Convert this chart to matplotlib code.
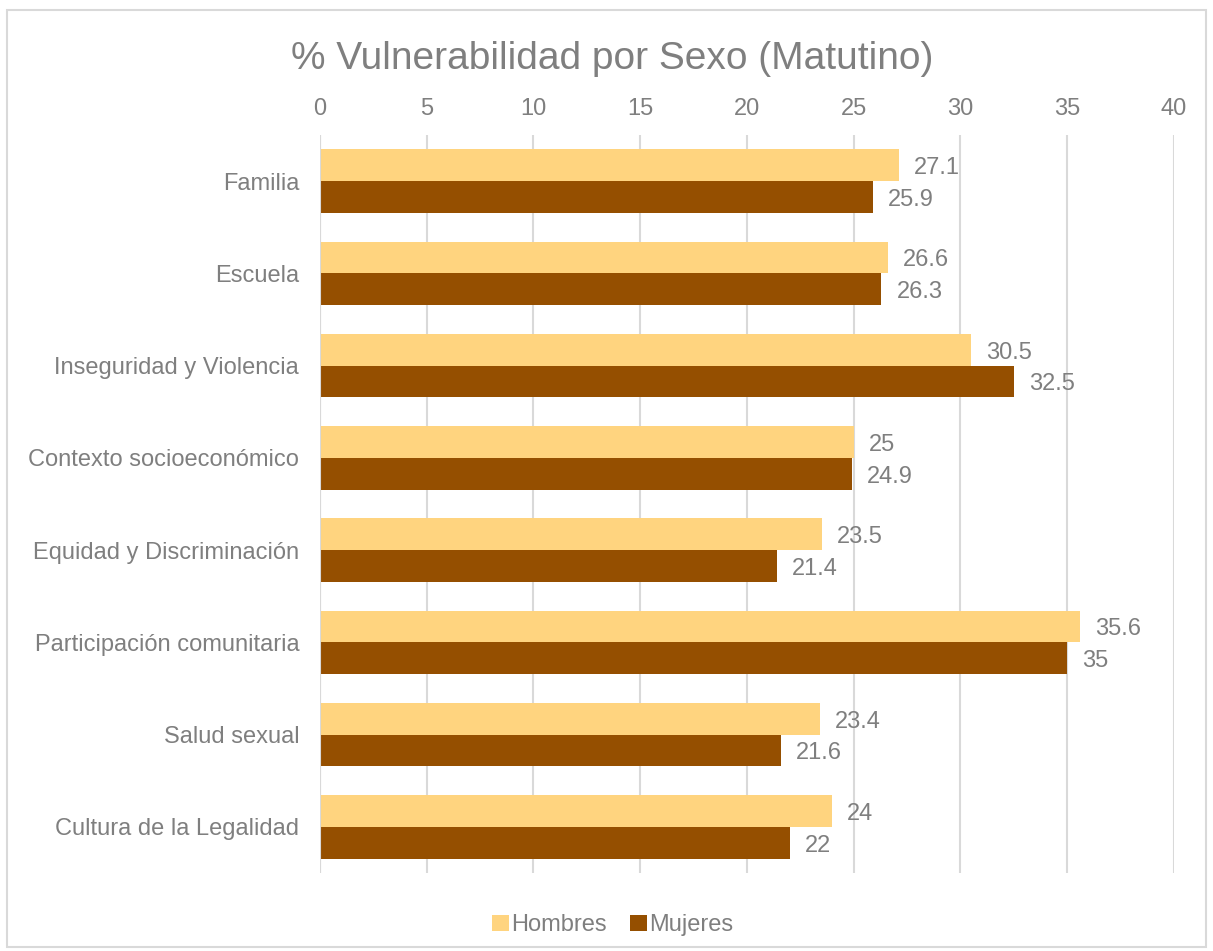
import matplotlib.pyplot as plt
import numpy as np
from matplotlib.patches import Rectangle

categorias = ['Familia', 'Escuela', 'Inseguridad y Violencia', 'Contexto socioeconómico',
              'Equidad y Discriminación', 'Participación comunitaria', 'Salud sexual',
              'Cultura de la Legalidad']
hombres = [27.1, 26.6, 30.5, 25, 23.5, 35.6, 23.4, 24]
mujeres = [25.9, 26.3, 32.5, 24.9, 21.4, 35, 21.6, 22]
etiquetas_h = ['27.1', '26.6', '30.5', '25', '23.5', '35.6', '23.4', '24']
etiquetas_m = ['25.9', '26.3', '32.5', '24.9', '21.4', '35', '21.6', '22']

plt.rcParams['font.family'] = ['Liberation Sans', 'DejaVu Sans']
gris = '#7f7f7f'
c_h = '#FFD47F'
c_m = '#954F00'

fig = plt.figure(figsize=(12.13, 9.51), dpi=100)
fig.patches.append(Rectangle((0.006, 0.004), 0.988, 0.985, transform=fig.transFigure,
                             fill=False, edgecolor='#d9d9d9', linewidth=1.5))
ax = fig.add_axes([0.2638, 0.082, 0.704, 0.776])

y = np.arange(len(categorias))
h = 0.345
ax.barh(y - h / 2, hombres, height=h, color=c_h, label='Hombres', zorder=3)
ax.barh(y + h / 2, mujeres, height=h, color=c_m, label='Mujeres', zorder=3)
for i in range(len(categorias)):
    ax.text(hombres[i] + 0.7, y[i] - h / 2 + 0.03, etiquetas_h[i], va='center', ha='left',
            fontsize=17, color=gris)
    ax.text(mujeres[i] + 0.7, y[i] + h / 2 + 0.03, etiquetas_m[i], va='center', ha='left',
            fontsize=17, color=gris)

ax.set_xlim(0, 40)
ax.set_ylim(len(categorias) - 0.5, -0.5)
ax.set_xticks(range(0, 41, 5))
ax.set_yticks(y)
ax.set_yticklabels(categorias)
ax.xaxis.tick_top()
ax.tick_params(axis='both', length=0, labelsize=17, labelcolor=gris)
ax.tick_params(axis='x', pad=11)
ax.tick_params(axis='y', pad=15)
ax.grid(axis='x', color='#d9d9d9', linewidth=1.5, zorder=0)
for s in ax.spines.values():
    s.set_visible(False)
ax.axvline(0, color='#d9d9d9', linewidth=1.5, zorder=4)

fig.text(0.505, 0.938, '% Vulnerabilidad por Sexo (Matutino)', ha='center', va='center',
         fontsize=28, color=gris)
fig.legend(loc='center', bbox_to_anchor=(0.505, 0.027), ncol=2, frameon=False,
           fontsize=17, labelcolor=gris, handlelength=0.7, handleheight=0.7,
           handletextpad=0.1, columnspacing=1.0)

fig.savefig('out.png', dpi=100)
